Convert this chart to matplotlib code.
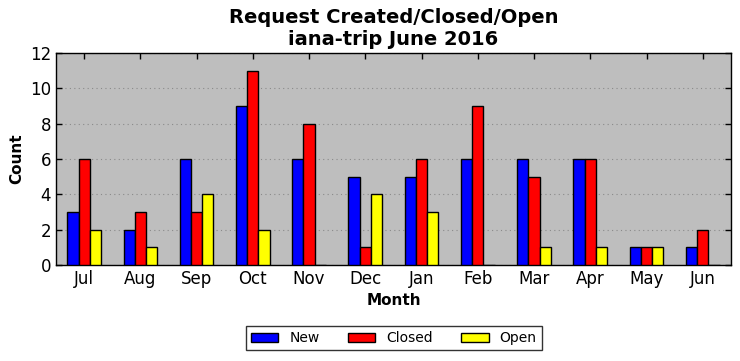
import numpy as np
import matplotlib.pyplot as plt

months = ["Jul", "Aug", "Sep", "Oct", "Nov", "Dec", "Jan", "Feb", "Mar", "Apr", "May", "Jun"]
new = [3, 2, 6, 9, 6, 5, 5, 6, 6, 6, 1, 1]
closed = [6, 3, 3, 11, 8, 1, 6, 9, 5, 6, 1, 2]
opened = [2, 1, 4, 2, 0, 4, 3, 0, 1, 1, 1, 0]

x = np.arange(len(months))
w = 0.2

fig = plt.figure(figsize=(7.4, 3.61), dpi=100)
ax = fig.add_axes([0.0757, 0.266, 0.912, 0.587])
ax.set_facecolor("#bebebe")
ax.bar(x - w, new, w, color="blue", edgecolor="black", linewidth=1, label="New", zorder=3)
ax.bar(x, closed, w, color="red", edgecolor="black", linewidth=1, label="Closed", zorder=3)
ax.bar(x + w, opened, w, color="yellow", edgecolor="black", linewidth=1, label="Open", zorder=3)

ax.set_xlim(-0.5, 11.5)
ax.set_ylim(0, 12)
ax.set_xticks(x)
ax.set_xticklabels(months, fontsize=12)
ax.set_yticks(range(0, 13, 2))
ax.tick_params(axis="y", labelsize=12)
ax.tick_params(direction="in", top=True, right=True, length=4, width=1)
ax.yaxis.grid(True, linestyle=(0, (1, 3)), color="#8a8a8a", linewidth=0.8, zorder=0)
for s in ax.spines.values():
    s.set_linewidth(1)

ax.set_title("Request Created/Closed/Open\niana-trip June 2016", fontsize=14, fontweight="bold")
ax.set_xlabel("Month", fontsize=11, fontweight="bold")
ax.set_ylabel("Count", fontsize=11, fontweight="bold")

leg = fig.legend(loc="lower center", ncol=3, bbox_to_anchor=(0.532, 0.03), fancybox=False,
                 frameon=True, edgecolor="black", fontsize=10, handlelength=2.0,
                 columnspacing=2.0, borderaxespad=0.0, borderpad=0.35)
leg.get_frame().set_linewidth(1)

fig.savefig("out.png", dpi=100)
